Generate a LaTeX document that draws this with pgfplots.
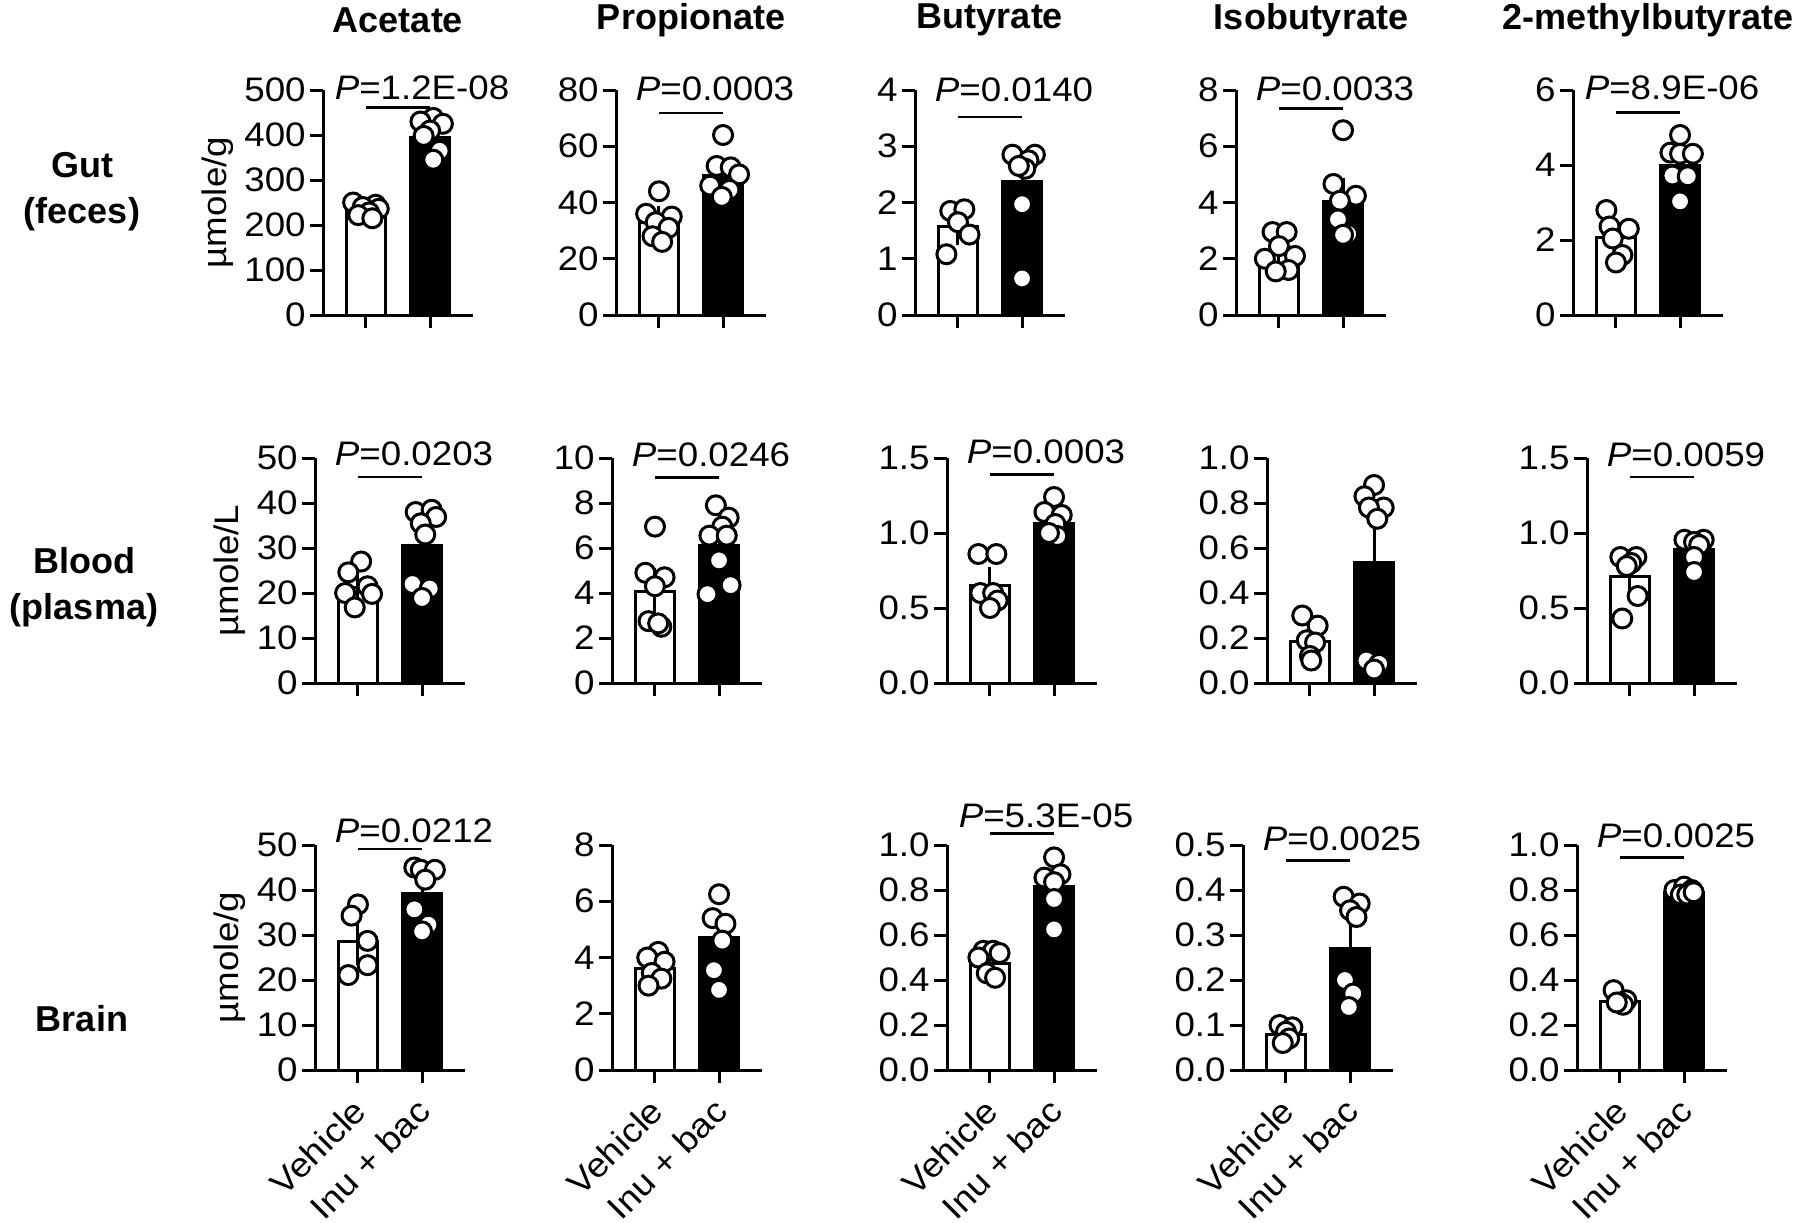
\documentclass[border=0pt]{standalone}
\usepackage{fontspec}
\setmainfont{Liberation Sans}
\newfontfamily\stretchfont{Liberation Sans}[FakeStretch=1.08]
\usepackage{pgfplots}
\pgfplotsset{compat=1.18}

\newcommand{\tfont}{\stretchfont\fontsize{17}{19}\selectfont}
\newcommand{\hfont}{\bfseries\fontsize{18}{23}\selectfont}

\pgfplotsset{
  panel/.style={
    anchor=south west,
    scale only axis, width=75pt, height=112.5pt,
    xmin=-0.67, xmax=1.67, ymin=0,
    axis x line*=bottom, axis y line*=left,
    axis line style={line width=1.5pt},
    tick style={line width=1.5pt, black},
    major tick length=6.5pt, tick align=outside,
    xtick={0,1}, xticklabels={},
    tick label style={font=\tfont, inner sep=2pt},
    ylabel style={font=\tfont},
    clip=false,
  },
  vbar/.style={ybar, bar width=19.5pt, fill=white, draw=black, line width=1.5pt,
    error bars/y dir=both, error bars/y explicit,
    error bars/error bar style={line width=1.5pt, black},
    error bars/error mark options={line width=1.5pt, mark size=5pt, black}},
  ibar/.style={vbar, fill=black},
  pts/.style={only marks, mark=*, mark size=4.75pt,
    mark options={fill=white, draw=black, line width=1.5pt}},
  lastrow/.style={xticklabels={Vehicle,Inu + bac},
    xticklabel style={rotate=45, anchor=north east, xshift=-5pt, yshift=0pt}},
}

\newcommand{\bars}[4]{%
  \addplot[vbar] coordinates {(0,#1) +- (0,#2)};
  \addplot[ibar] coordinates {(1,#3) +- (0,#4)};
}
\newcommand{\pval}[3]{%
  \draw[line width=1.4pt] (axis cs:0,#1) -- (axis cs:1,#1);
  \node[font=\tfont, inner sep=0pt] at (axis cs:0.875,#2) {\textit{P}=#3};
}

\begin{document}
\begin{tikzpicture}
\useasboundingbox (0,0) rectangle (900pt,-611pt);

% column titles
\node[font=\hfont] at (199pt,-10pt) {Acetate};
\node[font=\hfont] at (345.5pt,-10pt) {Propionate};
\node[font=\hfont] at (495pt,-10pt) {Butyrate};
\node[font=\hfont] at (655.5pt,-10pt) {Isobutyrate};
\node[font=\hfont] at (824pt,-10pt) {2-methylbutyrate};

% row labels
\node[font=\hfont, align=center] at (41pt,-96pt) {Gut\\(feces)};
\node[font=\hfont, align=center] at (42pt,-293.5pt) {Blood\\(plasma)};
\node[font=\hfont] at (41pt,-509.5pt) {Brain};

% ---------- row 1: gut ----------
\begin{axis}[panel, at={(161.5pt,-157.5pt)}, ymax=500,
  ytick={0,100,200,300,400,500}, yticklabels={0,100,200,300,400,500},
  ylabel={µmole/g}]
\bars{232}{6}{395}{13}
\addplot[pts] coordinates {(-0.2,250)(0.15,245)(-0.05,240)(0.2,236)(0.05,228)(-0.12,222)(0.1,215)
  (1.05,438)(0.85,430)(1.2,425)(1.0,410)(0.9,398)(1.15,365)(1.05,345)};
\pval{462}{505}{1.2E-08}
\end{axis}

\begin{axis}[panel, at={(308pt,-157.5pt)}, ymax=80,
  ytick={0,20,40,60,80}, yticklabels={0,20,40,60,80}]
\bars{33}{2.3}{49.5}{2.7}
\addplot[pts] coordinates {(0,44)(-0.2,36)(0.2,35)(-0.05,33)(0.15,31)(-0.1,28)(0.05,26)
  (1,64)(0.9,53)(1.12,52.5)(1.25,50)(0.8,46)(1.1,44.5)(0.98,42)};
\pval{71.8}{80.5}{0.0003}
\end{axis}

\begin{axis}[panel, at={(457.5pt,-157.5pt)}, ymax=4,
  ytick={0,1,2,3,4}, yticklabels={0,1,2,3,4}]
\bars{1.57}{0.14}{2.37}{0.3}
\addplot[pts] coordinates {(-0.12,1.85)(0.1,1.88)(0.0,1.65)(0.18,1.43)(-0.18,1.08)
  (0.85,2.85)(1.2,2.85)(1.1,2.75)(1.05,2.6)(0.95,2.65)(1.0,1.97)(1.0,0.65)};
\pval{3.52}{4.0}{0.0140}
\end{axis}

\begin{axis}[panel, at={(618pt,-157.5pt)}, ymax=8,
  ytick={0,2,4,6,8}, yticklabels={0,2,4,6,8}]
\bars{2.25}{0.22}{4.05}{0.48}
\addplot[pts] coordinates {(-0.1,2.95)(0.12,2.95)(0.0,2.45)(0.25,2.1)(-0.22,2.0)(0.15,1.6)(-0.05,1.55)
  (1.0,6.57)(0.85,4.66)(1.2,4.24)(0.95,4.06)(0.92,3.4)(1.08,2.88)(1.0,2.85)};
\pval{7.35}{8.05}{0.0033}
\end{axis}

\begin{axis}[panel, at={(786.5pt,-157.5pt)}, ymax=6,
  ytick={0,2,4,6}, yticklabels={0,2,4,6}]
\bars{2.07}{0.2}{3.98}{0.22}
\addplot[pts] coordinates {(-0.15,2.8)(-0.1,2.36)(0.2,2.3)(-0.05,2.04)(0.1,1.6)(0.0,1.4)
  (1.0,4.8)(0.85,4.33)(1.0,4.3)(1.2,4.3)(0.88,3.72)(1.12,3.7)(1.0,3.03)};
\pval{5.39}{6.05}{8.9E-06}
\end{axis}

% ---------- row 2: blood ----------
\begin{axis}[panel, at={(157.5pt,-341.5pt)}, ymax=50,
  ytick={0,10,20,30,40,50}, yticklabels={0,10,20,30,40,50},
  ylabel={µmole/L}]
\bars{21.3}{1.5}{30.5}{3}
\addplot[pts] coordinates {(0.05,27)(-0.15,24.6)(0.15,21.5)(-0.2,20)(0.22,19.8)(-0.05,16.8)
  (0.9,38)(1.15,38.5)(1.22,36.9)(0.98,35.5)(1.05,33)(0.85,22)(1.12,21)(1.0,18.9)};
\pval{45.8}{51}{0.0203}
\end{axis}

\begin{axis}[panel, at={(306pt,-341.5pt)}, ymax=10,
  ytick={0,2,4,6,8,10}, yticklabels={0,2,4,6,8,10}]
\bars{4.05}{0.6}{6.1}{0.5}
\addplot[pts] coordinates {(0,6.95)(-0.15,4.9)(0.15,4.7)(0.0,4.3)(-0.1,2.75)(0.1,2.5)(0.05,2.65)
  (0.95,7.9)(1.15,7.35)(1.05,6.95)(0.85,6.55)(1.12,6.55)(1.0,5.45)(1.18,4.35)(0.82,3.95)};
\pval{9.15}{10.15}{0.0246}
\end{axis}

\begin{axis}[panel, at={(473.5pt,-341.5pt)}, ymax=1.5,
  ytick={0,0.5,1,1.5}, yticklabels={0.0,0.5,1.0,1.5}]
\bars{0.65}{0.055}{1.065}{0.04}
\addplot[pts] coordinates {(-0.18,0.86)(0.1,0.86)(-0.15,0.6)(0.05,0.6)(0.12,0.55)(0.0,0.5)
  (1.0,1.24)(0.85,1.14)(1.12,1.12)(1.02,1.06)(1.05,0.98)(0.92,1.0)};
\pval{1.39}{1.54}{0.0003}
\end{axis}

\begin{axis}[panel, at={(633.5pt,-341.5pt)}, ymax=1,
  ytick={0,0.2,0.4,0.6,0.8,1}, yticklabels={0.0,0.2,0.4,0.6,0.8,1.0}]
\bars{0.186}{0.03}{0.535}{0.133}
\addplot[pts] coordinates {(-0.12,0.3)(0.12,0.255)(-0.05,0.19)(0.08,0.18)(0.0,0.12)(0.02,0.1)
  (1.0,0.88)(0.85,0.83)(1.15,0.78)(0.92,0.78)(1.05,0.73)(0.88,0.1)(1.08,0.085)(1.0,0.06)};
\end{axis}

\begin{axis}[panel, at={(793.5pt,-341.5pt)}, ymax=1.5,
  ytick={0,0.5,1,1.5}, yticklabels={0.0,0.5,1.0,1.5}]
\bars{0.71}{0.065}{0.89}{0.03}
\addplot[pts] coordinates {(-0.15,0.84)(0.1,0.84)(0.02,0.8)(-0.05,0.78)(0.12,0.58)(-0.12,0.43)
  (0.85,0.955)(1.15,0.955)(1.0,0.94)(1.08,0.92)(1.0,0.84)(1.0,0.74)};
\pval{1.373}{1.52}{0.0059}
\end{axis}

% ---------- row 3: brain ----------
\begin{axis}[panel, lastrow, at={(157.5pt,-535pt)}, ymax=50,
  ytick={0,10,20,30,40,50}, yticklabels={0,10,20,30,40,50},
  ylabel={µmole/g}]
\bars{28.6}{3.1}{39.2}{2.2}
\addplot[pts] coordinates {(0.0,36.8)(-0.1,34.3)(0.15,28.7)(0.15,23.3)(-0.15,21.1)
  (0.88,45)(0.98,44.5)(1.2,44.5)(1.05,42.3)(0.88,35.7)(1.1,32.3)(1.0,30.8)};
\pval{49.1}{53.1}{0.0212}
\end{axis}

\begin{axis}[panel, lastrow, at={(306pt,-535pt)}, ymax=8,
  ytick={0,2,4,6,8}, yticklabels={0,2,4,6,8}]
\bars{3.6}{0.2}{4.7}{0.5}
\addplot[pts] coordinates {(0.05,4.2)(-0.12,4.0)(0.15,3.85)(-0.05,3.45)(0.1,3.25)(-0.1,3.0)
  (1.0,6.25)(0.9,5.4)(1.1,5.2)(1.05,4.6)(0.92,3.55)(1.0,2.85)};
\end{axis}

\begin{axis}[panel, lastrow, at={(473.5pt,-535pt)}, ymax=1,
  ytick={0,0.2,0.4,0.6,0.8,1}, yticklabels={0.0,0.2,0.4,0.6,0.8,1.0}]
\bars{0.475}{0.02}{0.815}{0.045}
\addplot[pts] coordinates {(-0.1,0.53)(0.05,0.53)(0.15,0.52)(-0.18,0.5)(-0.05,0.43)(0.08,0.41)
  (1.0,0.945)(0.85,0.855)(1.1,0.87)(1.0,0.835)(1.0,0.76)(1.0,0.625)};
\pval{1.05}{1.13}{5.3E-05}
\end{axis}

\begin{axis}[panel, lastrow, at={(621.5pt,-535pt)}, ymax=0.5,
  ytick={0,0.1,0.2,0.3,0.4,0.5}, yticklabels={0.0,0.1,0.2,0.3,0.4,0.5}]
\bars{0.08}{0.008}{0.27}{0.045}
\addplot[pts] coordinates {(-0.1,0.1)(0.1,0.095)(0.0,0.085)(0.05,0.07)(-0.05,0.06)
  (0.9,0.385)(1.15,0.37)(1.0,0.355)(1.1,0.34)(0.92,0.2)(1.05,0.17)(0.98,0.14)};
\pval{0.466}{0.513}{0.0025}
\end{axis}

\begin{axis}[panel, lastrow, at={(788.5pt,-535pt)}, ymax=1,
  ytick={0,0.2,0.4,0.6,0.8,1}, yticklabels={0.0,0.2,0.4,0.6,0.8,1.0}]
\bars{0.305}{0.015}{0.79}{0.01}
\addplot[pts] coordinates {(-0.1,0.355)(0.1,0.31)(0.0,0.3)(0.05,0.29)(-0.05,0.3)
  (0.85,0.8)(1.0,0.815)(1.12,0.8)(0.95,0.78)(1.05,0.78)(1.15,0.79)};
\pval{0.945}{1.04}{0.0025}
\end{axis}
\end{tikzpicture}
\end{document}
